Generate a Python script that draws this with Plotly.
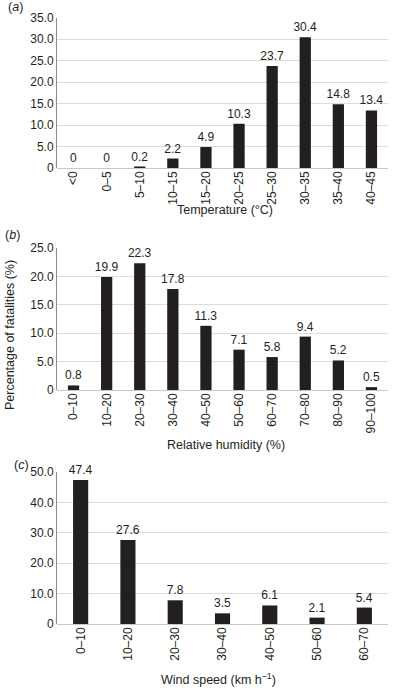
import plotly.graph_objects as go
from plotly.subplots import make_subplots

temp_cats = ["<0", "0–5", "5–10", "10–15", "15–20", "20–25", "25–30", "30–35", "35–40", "40–45"]
temp_vals = [0, 0, 0.2, 2.2, 4.9, 10.3, 23.7, 30.4, 14.8, 13.4]
temp_text = ["0", "0", "0.2", "2.2", "4.9", "10.3", "23.7", "30.4", "14.8", "13.4"]

rh_cats = ["0–10", "10–20", "20–30", "30–40", "40–50", "50–60", "60–70", "70–80", "80–90", "90–100"]
rh_vals = [0.8, 19.9, 22.3, 17.8, 11.3, 7.1, 5.8, 9.4, 5.2, 0.5]
rh_text = ["0.8", "19.9", "22.3", "17.8", "11.3", "7.1", "5.8", "9.4", "5.2", "0.5"]

wind_cats = ["0–10", "10–20", "20–30", "30–40", "40–50", "50–60", "60–70"]
wind_vals = [47.4, 27.6, 7.8, 3.5, 6.1, 2.1, 5.4]
wind_text = ["47.4", "27.6", "7.8", "3.5", "6.1", "2.1", "5.4"]

temp_ticks = [0, 5, 10, 15, 20, 25, 30, 35]
temp_ticklabels = ["0", "5.0", "10.0", "15.0", "20.0", "25.0", "30.0", "35.0"]
rh_ticks = [0, 5, 10, 15, 20, 25]
rh_ticklabels = ["0", "5.0", "10.0", "15.0", "20.0", "25.0"]
wind_ticks = [0, 10, 20, 30, 40, 50]
wind_ticklabels = ["0", "10.0", "20.0", "30.0", "40.0", "50.0"]

W, H = 397, 689
FONT = "Liberation Sans, Arial, sans-serif"
TXT = "#231f20"
BAR = "#231f20"

fig = make_subplots(rows=3, cols=1)

def py(px):
    return (H - px) / H

def pxx(px):
    return px / W

panels = [
    (temp_cats, temp_vals, temp_text, temp_ticks, temp_ticklabels, [0, 35], (17.5, 168), 0.34),
    (rh_cats, rh_vals, rh_text, rh_ticks, rh_ticklabels, [0, 25], (248, 390), 0.34),
    (wind_cats, wind_vals, wind_text, wind_ticks, wind_ticklabels, [0, 50], (472, 624), 0.32),
]

xdom = [pxx(57), pxx(388)]
for i, (cats, vals, txt, tv, tt, rng, (ytop, ybot), bw) in enumerate(panels, start=1):
    fig.add_trace(go.Bar(
        x=cats, y=vals, text=txt, textposition="outside", cliponaxis=False,
        constraintext="none",
        textfont=dict(family=FONT, size=12, color=TXT),
        marker=dict(color=BAR, line=dict(width=0)), width=bw, showlegend=False,
        hoverinfo="x+y",
    ), row=i, col=1)
    xa = "xaxis" if i == 1 else f"xaxis{i}"
    ya = "yaxis" if i == 1 else f"yaxis{i}"
    fig.layout[xa].update(
        domain=xdom, tickangle=-90, showline=False, showgrid=False, zeroline=False,
        ticks="", tickfont=dict(family=FONT, size=12, color=TXT), type="category",
        categoryorder="array", categoryarray=cats, fixedrange=True, automargin=False,
    )
    fig.layout[ya].update(
        domain=[py(ybot), py(ytop)], range=rng, tickvals=tv, ticktext=tt,
        showline=True, linecolor="#8c8c8c", linewidth=1, showgrid=True,
        gridcolor="#dcdcdc", gridwidth=1, zeroline=True, zerolinecolor="#c8c8c8",
        zerolinewidth=1, ticks="", tickfont=dict(family=FONT, size=12, color=TXT),
        fixedrange=True, automargin=False,
    )

annots = [
    dict(text="(<i>a</i>)", x=pxx(6), y=py(7), xanchor="left"),
    dict(text="(<i>b</i>)", x=pxx(3), y=py(235), xanchor="left"),
    dict(text="(<i>c</i>)", x=pxx(12), y=py(465), xanchor="left"),
    dict(text="Temperature (°C)", x=pxx(225), y=py(210), xanchor="center"),
    dict(text="Relative humidity (%)", x=pxx(226), y=py(445), xanchor="center"),
    dict(text="Wind speed (km h<sup>−1</sup>)", x=pxx(218), y=py(679), xanchor="center"),
]
for a in annots:
    fig.add_annotation(xref="paper", yref="paper", showarrow=False, yanchor="middle",
                       font=dict(family=FONT, size=12.5, color=TXT), **a)
fig.add_annotation(text="Percentage of fatalities (%)", xref="paper", yref="paper",
                   x=pxx(10), y=py(335), xanchor="center", yanchor="middle", textangle=-90,
                   showarrow=False, font=dict(family=FONT, size=12.5, color=TXT))

fig.update_layout(
    width=W, height=H, margin=dict(l=0, r=0, t=0, b=0, autoexpand=False),
    paper_bgcolor="white", plot_bgcolor="white", bargap=0.66,
    font=dict(family=FONT, color=TXT),
)

fig.write_html("out.html", config={"displayModeBar": False},
               post_script="document.body.style.margin='0px';document.body.style.overflow='hidden';")
